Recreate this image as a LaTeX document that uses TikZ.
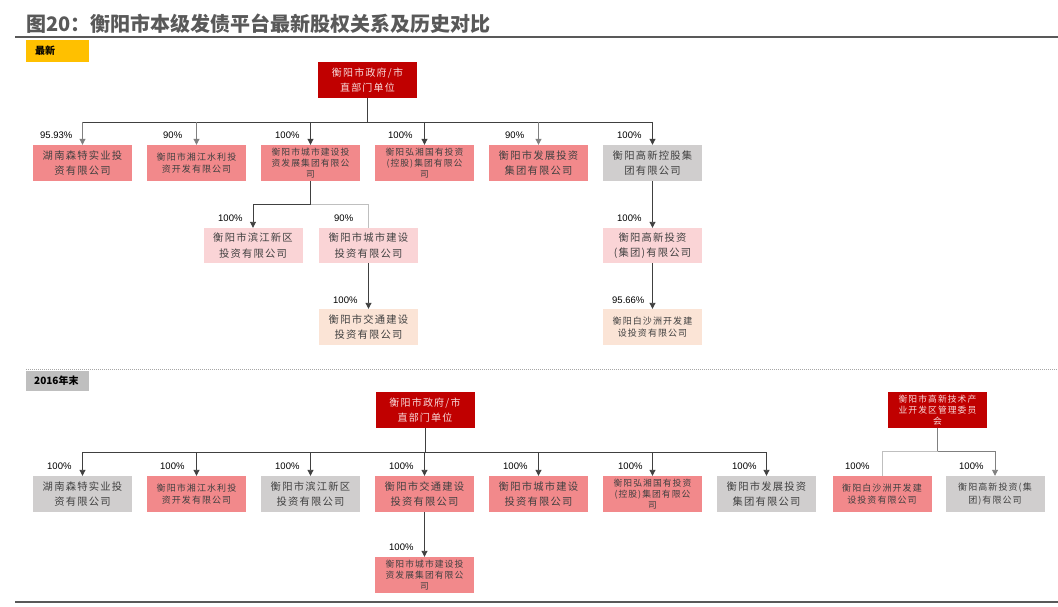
\documentclass[tikz,border=0pt]{standalone}
\usepackage{fontspec}
\setmainfont{Liberation Sans}
\newfontfamily\cjk[LetterSpace=12]{Noto Sans CJK SC}
\newfontfamily\cjkt{Noto Sans CJK SC}
\usetikzlibrary{arrows.meta}
\definecolor{cred}{RGB}{192,0,0}
\definecolor{csal}{RGB}{242,137,139}
\definecolor{cgry}{RGB}{208,206,206}
\definecolor{cpnk}{RGB}{250,212,214}
\definecolor{cpch}{RGB}{251,228,214}
\definecolor{ctxt}{RGB}{64,64,64}
\definecolor{croot}{RGB}{248,218,218}
\definecolor{cyel}{RGB}{255,192,0}
\definecolor{csec}{RGB}{191,191,191}
\definecolor{ctitle}{RGB}{89,89,89}
\tikzset{
 bx/.style={rectangle, minimum width=99pt, minimum height=36pt, inner sep=0pt, align=center, text=ctxt},
 big/.style={bx, font=\cjk\fontsize{10.3}{15.5}\selectfont},
 sml/.style={bx, font=\cjk\fontsize{9}{12.5}\selectfont},
 smlthree/.style={bx, font=\cjk\fontsize{8.8}{11.3}\selectfont},
 rootbox/.style={bx, fill=cred, text=croot, font=\cjk\fontsize{10}{15}\selectfont},
 rootsml/.style={bx, fill=cred, text=croot, font=\cjk\fontsize{8.8}{11.3}\selectfont},
 pct/.style={anchor=west, inner sep=0pt, font=\fontsize{9.5}{11}\selectfont, text=black},
 sec/.style={anchor=west, inner sep=0pt, font=\cjkt\bfseries\fontsize{10}{12}\selectfont, text=black},
 ln/.style={draw=ctxt, line width=0.9pt},
 lng/.style={draw=gray, line width=0.9pt},
 lnl/.style={draw=black!25, line width=0.8pt},
 tip/.style={-{Triangle[width=6pt,length=6pt]}},
 arr/.style={ln, tip},
 arrg/.style={lng, tip},
}
\begin{document}
\begin{tikzpicture}[x=1pt,y=-1pt]
\useasboundingbox (0,0) rectangle (1058,607);
\fill[white] (0,0) rectangle (1058,607);

% title
\node[anchor=west, inner sep=0pt, text=ctitle, font=\cjkt\bfseries\fontsize{20}{24}\selectfont] (title) at (26,24) {图20：衡阳市本级发债平台最新股权关系及历史对比};
\draw[ctitle, line width=2pt] (15,37.5) -- (1058,37.5);

% section: latest
\fill[cyel] (26,40) rectangle (89,62);
\node[sec] (s1) at (35,51) {最新};

% top tree
\node[rootbox] (r1) at (367.5,80) {衡阳市政府/市\\直部门单位};
\coordinate (bus1) at (0,122);
\node[big, fill=csal] (a1) at (82.5,163) {湖南森特实业投\\资有限公司};
\node[sml, fill=csal] (a2) at (196.5,163) {衡阳市湘江水利投\\资开发有限公司};
\node[smlthree, fill=csal] (a3) at (310.5,163) {衡阳市城市建设投\\资发展集团有限公\\司};
\node[smlthree, fill=csal] (a4) at (424.5,163) {衡阳弘湘国有投资\\(控股)集团有限公\\司};
\node[big, fill=csal] (a5) at (538.5,163) {衡阳市发展投资\\集团有限公司};
\node[big, fill=cgry] (a6) at (652.5,163) {衡阳高新控股集\\团有限公司};

\draw[ln] (r1.south) -- (r1.south |- bus1);
\draw[ln] (a1.north |- bus1) -- (a6.north |- bus1);
\draw[arrg] (a1.north |- bus1) -- (a1.north);
\draw[arrg] (a2.north |- bus1) -- (a2.north);
\draw[arr] (a3.north |- bus1) -- (a3.north);
\draw[arr] (a4.north |- bus1) -- (a4.north);
\draw[arrg] (a5.north |- bus1) -- (a5.north);
\draw[arr] (a6.north |- bus1) -- (a6.north);

\node[pct] (p1) at (40,135) {95.93\%};
\node[pct] (p2) at (163,135) {90\%};
\node[pct] (p3) at (275,135) {100\%};
\node[pct] (p4) at (388,135) {100\%};
\node[pct] (p5) at (505,135) {90\%};
\node[pct] (p6) at (617,135) {100\%};

% level 2 under a3
\node[big, fill=cpnk, minimum height=35pt] (b1) at (253,245.5) {衡阳市滨江新区\\投资有限公司};
\node[big, fill=cpnk, minimum height=35pt] (b2) at (368.5,245.5) {衡阳市城市建设\\投资有限公司};
\coordinate (bus2) at (0,204);
\draw[ln] (a3.south) -- (a3.south |- bus2);
\draw[ln] (a3.south |- bus2) -- (b1.north |- bus2);
\draw[lnl] (a3.south |- bus2) -- (b2.north |- bus2) -- (b2.north);
\draw[arr] (b1.north |- bus2) -- (b1.north);
\node[pct] (p7) at (218,218) {100\%};
\node[pct] (p8) at (334,218) {90\%};

\node[big, fill=cpch] (c1) at (368.5,327) {衡阳市交通建设\\投资有限公司};
\draw[arr] (b2.south) -- (c1.north);
\node[pct] (p9) at (333,300) {100\%};

% chain under a6
\node[big, fill=cpnk, minimum height=35pt] (b3) at (652.5,245.5) {衡阳高新投资\\(集团)有限公司};
\node[sml, fill=cpch] (c2) at (652.5,327) {衡阳白沙洲开发建\\设投资有限公司};
\draw[arr] (a6.south) -- (b3.north);
\draw[arr] (b3.south) -- (c2.north);
\node[pct] (p10) at (617,218) {100\%};
\node[pct] (p11) at (612,300) {95.66\%};

% section: 2016
\draw[gray!70, line width=0.8pt, dash pattern=on 1pt off 1pt] (26,369) -- (1058,369);
\fill[csec] (26,370.5) rectangle (89,391);
\node[sec] (s2) at (34,381) {2016年末};

% bottom tree
\node[rootbox] (r2) at (425,410) {衡阳市政府/市\\直部门单位};
\coordinate (bus3) at (0,452);
\node[big, fill=cgry] (d1) at (82.5,494) {湖南森特实业投\\资有限公司};
\node[sml, fill=csal] (d2) at (196.5,494) {衡阳市湘江水利投\\资开发有限公司};
\node[big, fill=cgry] (d3) at (310.5,494) {衡阳市滨江新区\\投资有限公司};
\node[big, fill=csal] (d4) at (424.5,494) {衡阳市交通建设\\投资有限公司};
\node[big, fill=csal] (d5) at (538.5,494) {衡阳市城市建设\\投资有限公司};
\node[smlthree, fill=csal] (d6) at (652.5,494) {衡阳弘湘国有投资\\(控股)集团有限公\\司};
\node[big, fill=cgry] (d7) at (766.5,494) {衡阳市发展投资\\集团有限公司};

\draw[ln] (r2.south) -- (r2.south |- bus3);
\draw[ln] (d1.north |- bus3) -- (d7.north |- bus3);
\foreach \n in {d1,d2,d3,d4,d5,d6,d7}
  \draw[arr] (\n.north |- bus3) -- (\n.north);

\node[pct] (q1) at (47,466) {100\%};
\node[pct] (q2) at (160,466) {100\%};
\node[pct] (q3) at (275,466) {100\%};
\node[pct] (q4) at (389,466) {100\%};
\node[pct] (q5) at (503,466) {100\%};
\node[pct] (q6) at (618,466) {100\%};
\node[pct] (q7) at (732,466) {100\%};

\node[smlthree, fill=csal] (e1) at (424.5,575) {衡阳市城市建设投\\资发展集团有限公\\司};
\draw[arr] (d4.south) -- (e1.north);
\node[pct] (q8) at (389,547) {100\%};

% right group
\node[rootsml] (r3) at (937.5,410) {衡阳市高新技术产\\业开发区管理委员\\会};
\coordinate (bus4) at (0,451);
\node[sml, fill=csal] (f1) at (882,494) {衡阳白沙洲开发建\\设投资有限公司};
\node[sml, fill=cgry] (f2) at (995,494) {衡阳高新投资(集\\团)有限公司};
\draw[lng] (r3.south) -- (r3.south |- bus4);
\draw[lnl] (r3.south |- bus4) -- (f1.north |- bus4) -- (f1.north);
\draw[lng] (r3.south |- bus4) -- (f2.north |- bus4);
\draw[arrg] (f2.north |- bus4) -- (f2.north);
\node[pct] (q9) at (845,466) {100\%};
\node[pct] (q10) at (959,466) {100\%};

% bottom rule
\draw[ctitle, line width=2pt] (15,602) -- (1058,602);
\end{tikzpicture}
\end{document}
